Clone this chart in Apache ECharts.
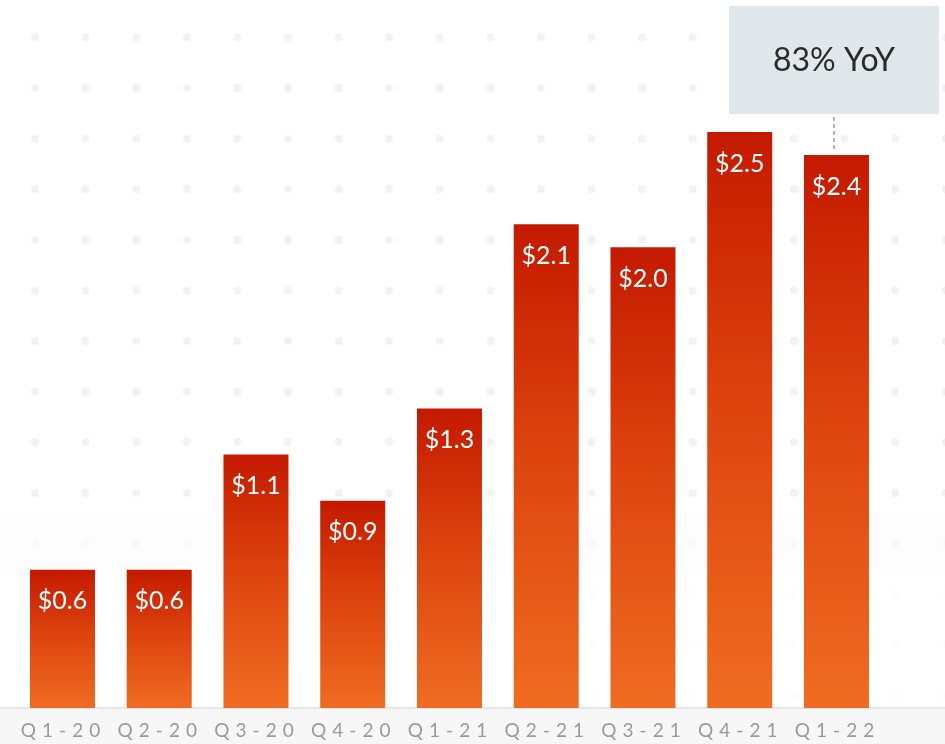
<!DOCTYPE html>
<html>
<head>
<meta charset="utf-8">
<script src="https://cdn.jsdelivr.net/npm/echarts@6/dist/echarts.min.js"></script>
<style>
  html, body { margin: 0; padding: 0; background: #ffffff; }
  #chart { width: 945px; height: 744px; }
</style>
</head>
<body>
<div id="chart"></div>
<script>
// Quarterly values, in billions of dollars
const quarters = ['Q1-20', 'Q2-20', 'Q3-20', 'Q4-20', 'Q1-21', 'Q2-21', 'Q3-21', 'Q4-21', 'Q1-22'];
const revenue = [0.6, 0.6, 1.1, 0.9, 1.3, 2.1, 2.0, 2.5, 2.4];
const growthNote = '83% YoY';

const FONT = 'Lato, "Open Sans", sans-serif';
const chart = echarts.init(document.getElementById('chart'), null, { renderer: 'canvas' });

// Decorative dotted backdrop that fades towards the baseline
function dotBackdrop() {
  const els = [];
  els.push({
    type: 'rect', z: -20, silent: true,
    shape: { x: 0, y: 515, width: 945, height: 55 },
    style: { fill: '#fdfdfd' }
  });
  for (let j = 0; j < 14; j++) {
    const y = 37.5 + 50.6 * j;
    let fill = '#f2f2f2';
    if (j === 10) fill = '#f8f8f8';
    if (j >= 11) fill = '#fcfcfc';
    if (y > 700) continue;
    for (let i = 0; i < 19; i++) {
      els.push({
        type: 'circle', z: -10, silent: true,
        shape: { cx: 35 + 50.6 * i, cy: y, r: 4 },
        style: { fill: fill }
      });
    }
  }
  // band under the category axis, with its top rule
  els.push({
    type: 'rect', z: -5, silent: true,
    shape: { x: 0, y: 708, width: 945, height: 36 },
    style: { fill: '#f7f7f7' }
  });
  els.push({
    type: 'line', z: -4, silent: true,
    shape: { x1: 0, y1: 708, x2: 945, y2: 708 },
    style: { stroke: '#e6e6e6', lineWidth: 2 }
  });
  return els;
}

const barGradient = new echarts.graphic.LinearGradient(0, 0, 0, 1, [
  { offset: 0, color: '#c41a00' },
  { offset: 0.45, color: '#dc420d' },
  { offset: 1, color: '#ef6c22' }
]);

chart.setOption({
  animation: false,
  backgroundColor: '#ffffff',
  grid: { left: 14.1, right: 60.15, top: 16.8, bottom: 36, containLabel: false },
  xAxis: {
    type: 'category',
    data: quarters,
    axisTick: { show: false },
    axisLine: { show: false },
    axisLabel: {
      interval: 0,
      color: '#9a9a9a',
      fontFamily: FONT,
      fontSize: 19,
      margin: 13,
      padding: [0, 4, 0, 0],
      formatter: v => v.split('').join(' \u200A')
    }
  },
  yAxis: {
    type: 'value',
    min: 0,
    max: 3,
    show: false,
    splitLine: { show: false }
  },
  series: [{
    type: 'bar',
    data: revenue,
    barWidth: 65,
    itemStyle: { color: barGradient },
    label: {
      show: true,
      position: 'insideTop',
      distance: 19,
      color: '#ffffff',
      fontFamily: FONT,
      fontSize: 25,
      formatter: p => '$' + p.value.toFixed(1)
    }
  }]
});

// Growth callout anchored above the latest quarter
const lastIdx = quarters.length - 1;
const cx = chart.convertToPixel({ xAxisIndex: 0 }, quarters[lastIdx]) - 2.5;
const topY = chart.convertToPixel({ yAxisIndex: 0 }, revenue[lastIdx]);
const boxW = 210, boxH = 108, boxTop = 6;
const elements = dotBackdrop().concat([
  {
    type: 'rect', z: 5,
    shape: { x: cx - boxW / 2, y: boxTop, width: boxW, height: boxH },
    style: { fill: '#e1e8eb' }
  },
  {
    type: 'text', z: 6,
    x: cx, y: boxTop + boxH / 2 + 1,
    style: {
      text: growthNote, fill: '#2b2b2b', fontFamily: FONT, fontSize: 32,
      align: 'center', verticalAlign: 'middle'
    }
  },
  {
    type: 'line', z: 5,
    shape: { x1: cx, y1: boxTop + boxH + 3, x2: cx, y2: topY - 5 },
    style: { stroke: '#9a9a9a', lineWidth: 1.5, lineDash: [4, 3] }
  }
]);
chart.setOption({ graphic: { elements: elements } });
</script>
</body>
</html>
